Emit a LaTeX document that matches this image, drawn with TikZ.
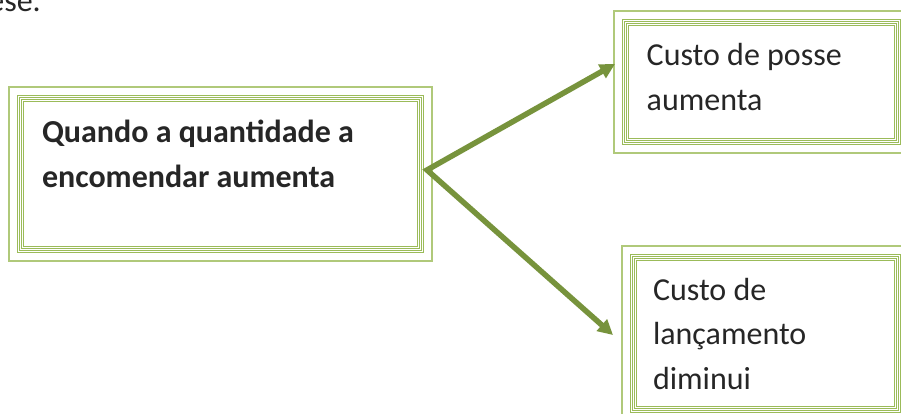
\documentclass[tikz,border=0pt]{standalone}
\usepackage{fontspec}
\setmainfont{Carlito}
\usetikzlibrary{arrows.meta}
\definecolor{boxgreen}{HTML}{9BBB59}
\definecolor{boxlight}{HTML}{B0C97A}
\definecolor{arrowgreen}{HTML}{77933C}
\definecolor{txt}{HTML}{262626}
\tikzset{
  outerbox/.style={draw=boxlight, line width=1.6pt, rectangle, inner sep=0pt, outer sep=0pt},
  innerline/.style={draw=boxgreen, line width=1.2pt},
  arrowline/.style={draw=arrowgreen, line width=5.5pt, line join=miter,
    {Triangle[length=15pt,width=15pt]}-{Triangle[length=15pt,width=15pt]}},
  label/.style={anchor=base west, inner sep=0pt, outer sep=0pt, text=txt}
}
\newcommand{\innerframe}[1]{%
  \foreach \o in {8.5,10.5,12.5,14.5}{
    \draw[innerline] ([shift={(\o,\o)}]#1.north west) rectangle ([shift={(-\o,-\o)}]#1.south east);
  }}
\begin{document}
\begin{tikzpicture}[x=1pt,y=-1pt]
\useasboundingbox (0,0) rectangle (901,413);
\clip (0,0) rectangle (901,413);
\fill[white] (0,0) rectangle (901,413);
% boxes
\node[outerbox, minimum width=423pt, minimum height=174pt] (L) at (220.5,174) {};
\node[outerbox, minimum width=295pt, minimum height=142pt] (T) at (761.5,82) {};
\node[outerbox, minimum width=287pt, minimum height=175pt] (B) at (765.5,333.5) {};
\innerframe{L}
\innerframe{T}
\innerframe{B}
% texts
\node[label] (tL) at (42,142.5) {\parbox[t]{380pt}{\fontsize{32pt}{45pt}\selectfont\bfseries Quando a quantidade a\\encomendar aumenta}};
\node[label] (tT) at (646.7,65) {\parbox[t]{240pt}{\fontsize{32pt}{45pt}\selectfont Custo de posse\\aumenta}};
\node[label] (tB) at (653,300) {\parbox[t]{230pt}{\fontsize{32pt}{44.5pt}\selectfont Custo de\\lançamento\\diminui}};
\node[anchor=base east, inner sep=0pt, text=txt] (frag) at (41,11.5) {\fontsize{32pt}{38pt}\selectfont ese.};
% arrows
\draw[arrowline] ([shift={(1,-18)}]T.west) -- ([shift={(-5,-4)}]L.east) -- ([shift={(-9,1.5)}]B.west);
\end{tikzpicture}
\end{document}
